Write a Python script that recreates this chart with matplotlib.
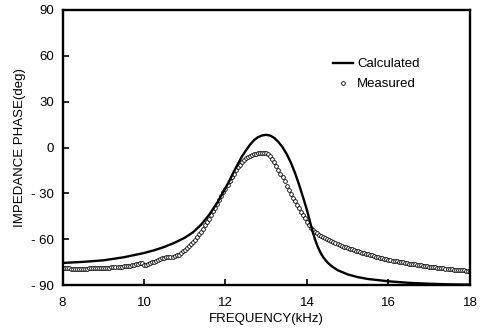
import numpy as np
import matplotlib.pyplot as plt

plt.rcParams['font.family'] = ['Liberation Sans', 'DejaVu Sans']
plt.rcParams['font.size'] = 9.5

# --- Data ---
calc_freq = [8.0, 8.5, 9.0, 9.5, 10.0, 10.25, 10.5, 10.75, 11.0, 11.2, 11.4, 11.6,
             11.8, 12.0, 12.1, 12.2, 12.3, 12.4, 12.5, 12.6, 12.7, 12.8, 12.9, 13.0,
             13.1, 13.2, 13.3, 13.4, 13.5, 13.6, 13.7, 13.8, 13.9, 14.0, 14.05, 14.1,
             14.15, 14.2, 14.25, 14.3, 14.35, 14.4, 14.5, 14.6, 14.75, 15.0, 15.25,
             15.5, 16.0, 16.5, 17.0, 17.5, 18.0]
calc_phase = [-75.5, -74.8, -73.8, -71.8, -69.0, -67.2, -65.0, -62.3, -59.0, -55.5,
              -50.5, -44.0, -36.0, -26.5, -21.5, -16.0, -11.0, -6.0, -2.0, 1.8, 4.8,
              6.8, 7.9, 8.3, 7.8, 6.2, 3.6, 0.2, -4.2, -9.6, -16.2, -23.8, -32.2,
              -41.0, -46.0, -51.2, -56.0, -60.3, -63.9, -67.0, -69.6, -71.8, -75.1,
              -77.5, -80.2, -83.0, -84.8, -86.0, -87.5, -88.5, -89.1, -89.5, -89.7]

# measured sweep, 8 to 18 kHz every 0.05 kHz
meas_freq = np.linspace(8, 18, 201)
meas_phase = [
    -79.0, -79.0, -79.1, -79.1, -79.2, -79.2, -79.3, -79.3, -79.3, -79.3,
    -79.3, -79.2, -79.2, -79.1, -79.1, -79.0, -79.0, -78.9, -78.9, -78.8,
    -78.8, -78.7, -78.6, -78.5, -78.4, -78.3, -78.2, -78.1, -78.0, -77.9,
    -77.8, -77.6, -77.4, -77.2, -77.0, -76.8, -76.5, -76.2, -75.8, -75.5,
    -77.0, -76.8, -76.3, -75.8, -75.2, -74.6, -74.0, -73.5, -73.0, -72.5,
    -72.0, -71.7, -71.5, -71.4, -71.3, -71.2, -70.6, -70.0, -69.0, -68.0,
    -67.0, -65.8, -64.5, -63.3, -62.0, -60.3, -58.5, -56.8, -55.0, -53.0,
    -51.0, -49.0, -46.8, -44.3, -41.8, -39.3, -36.8, -34.3, -31.8, -29.3,
    -27.0, -24.5, -22.0, -19.5, -17.2, -15.0, -13.0, -11.2, -9.6, -8.2,
    -7.0, -6.2, -5.5, -4.9, -4.4, -4.0, -3.7, -3.5, -3.4, -3.4,
    -3.8, -4.5, -5.5, -7.3, -9.5, -12.0, -14.5, -17.0, -19.5, -22.2,
    -25.0, -27.8, -30.5, -32.8, -35.0, -37.4, -39.8, -41.9, -44.0, -46.3,
    -48.5, -50.5, -52.5, -53.8, -55.0, -56.0, -57.0, -57.8, -58.5, -59.3,
    -60.0, -60.7, -61.3, -61.9, -62.5, -63.1, -63.7, -64.3, -64.8, -65.3,
    -65.8, -66.2, -66.7, -67.1, -67.5, -67.9, -68.4, -68.8, -69.2, -69.6,
    -69.9, -70.3, -70.6, -71.0, -71.3, -71.7, -72.0, -72.3, -72.6, -73.0,
    -73.3, -73.6, -73.9, -74.1, -74.4, -74.7, -74.9, -75.2, -75.4, -75.6,
    -75.9, -76.1, -76.3, -76.5, -76.7, -76.9, -77.1, -77.3, -77.5, -77.7,
    -77.9, -78.1, -78.2, -78.4, -78.6, -78.8, -78.9, -79.1, -79.2, -79.4,
    -79.5, -79.7, -79.8, -79.9, -80.1, -80.2, -80.3, -80.4, -80.6, -80.7,
    -80.8,
]

x_ticks = [8, 10, 12, 14, 16, 18]
y_ticks = [-90, -60, -30, 0, 30, 60, 90]
y_ticklabels = ['- 90', '- 60', '- 30', '0', '30', '60', '90']

# --- Plot ---
fig = plt.figure(figsize=(4.81, 3.30), dpi=100)
ax = fig.add_axes([0.130, 0.136, 0.847, 0.834])

ax.plot(calc_freq, calc_phase, color='black', lw=1.7, label='Calculated', zorder=3,
        solid_joinstyle='round')
ax.plot(meas_freq, meas_phase, linestyle='none', marker='o', markersize=2.7,
        markerfacecolor='white', markeredgecolor='black', markeredgewidth=0.6,
        label='Measured', zorder=2)

ax.set_xlim(8, 18)
ax.set_ylim(-90, 90)
ax.set_xticks(x_ticks)
ax.set_yticks(y_ticks)
ax.set_yticklabels(y_ticklabels)
ax.tick_params(direction='in', length=4, width=1.2)
ax.tick_params(axis='y', pad=6)
ax.tick_params(axis='x', pad=8.5)

for side in ax.spines.values():
    side.set_linewidth(1.7)

ax.set_xlabel('FREQUENCY(kHz)', labelpad=3)
ax.set_ylabel('IMPEDANCE PHASE(deg)', labelpad=4)

ax.legend(loc='upper left', bbox_to_anchor=(0.665, 0.825), frameon=False,
          handlelength=1.5, handletextpad=0.3, labelspacing=0.6,
          borderpad=0, borderaxespad=0)

fig.savefig('out.png', dpi=100)
